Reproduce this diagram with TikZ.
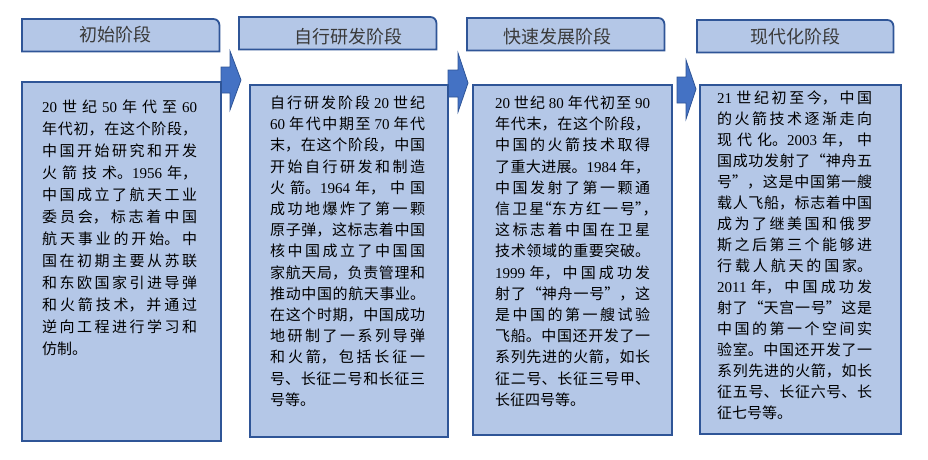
\documentclass[tikz,border=0pt]{standalone}
\usepackage{fontspec}
\setmainfont{Noto Sans CJK SC}
\newfontfamily\tnr{Liberation Serif}
\newcommand\yr[1]{{\tnr #1}}
\newcommand\hw[1]{{\addfontfeature{CharacterWidth=AlternateHalf}#1}}
\XeTeXlinebreaklocale "zh"
\XeTeXlinebreakskip=0pt plus 5pt
\tolerance=2000
\definecolor{boxfill}{HTML}{B4C7E7}
\definecolor{bord}{HTML}{2F5597}
\definecolor{arrowfill}{HTML}{4472C4}
\definecolor{titlegray}{HTML}{3A3A3A}
\tikzset{
  box/.style={draw=bord, fill=boxfill, line width=1.8pt, inner sep=0pt, anchor=north west},
  titlebox/.style={draw=bord, fill=boxfill, line width=1.8pt},
  titlename/.style={anchor=north west, inner sep=0pt, draw=none},
  titletext/.style={anchor=base, inner sep=0pt, text=titlegray, font=\fontsize{18}{20}\selectfont},
  body/.style={anchor=base west, inner sep=0pt, text width=155pt, align=justify},
  blockarrow/.style={fill=arrowfill, draw=bord, line width=0.8pt, line join=miter},
}
\begin{document}
\begin{tikzpicture}[x=1pt,y=-1pt]
\useasboundingbox (0,0) rectangle (928,459);
% arrows
\draw[blockarrow] (221,67) -- (230,67) -- (230,51) -- (241,80) -- (230,110) -- (230,93) -- (221,93) -- cycle;
\draw[blockarrow] (448,70) -- (458,70) -- (458,53) -- (468,83) -- (458,112) -- (458,97) -- (448,97) -- cycle;
\draw[blockarrow] (677,77) -- (686,77) -- (686,60) -- (696,89) -- (686,119) -- (686,103) -- (677,103) -- cycle;
% content boxes
\node[box, minimum width=199pt, minimum height=359pt] (b1) at (21,81) {};
\node[box, minimum width=198pt, minimum height=352pt] (b2) at (249,84) {};
\node[box, minimum width=199pt, minimum height=350pt] (b3) at (472,84) {};
\node[box, minimum width=201pt, minimum height=349pt] (b4) at (699,84) {};
% title boxes
\node[titlename, minimum width=197pt, minimum height=32pt] (t1) at (22,19) {};
\node[titlename, minimum width=197pt, minimum height=32pt] (t2) at (239,17) {};
\node[titlename, minimum width=197pt, minimum height=32pt] (t3) at (467,18) {};
\node[titlename, minimum width=196pt, minimum height=32pt] (t4) at (697,20) {};
\foreach \t in {t1,t2,t3,t4}{
  \draw[titlebox] (\t.south west) -- (\t.north west) -- ([xshift=-6pt]\t.north east)
    arc[start angle=90, end angle=0, radius=6pt] -- (\t.south east) -- cycle;
}
\node[titletext] (h1) at (115,41.8) {初始阶段};
\node[titletext] (h2) at (348,43.3) {自行研发阶段};
\node[titletext] (h3) at (557,43.3) {快速发展阶段};
\node[titletext] (h4) at (795,43.3) {现代化阶段};
% body texts
\node[body, font=\fontsize{15}{22}\selectfont] (c1) at (42,112.5) {%
\yr{20} 世纪 \yr{50} 年代至 \yr{60}\linebreak
年代初，在这个阶段，\linebreak
中国开始研究和开发\linebreak
火箭技术。\yr{1956} 年，\linebreak
中国成立了航天工业\linebreak
委员会，标志着中国\linebreak
航天事业的开始。中\linebreak
国在初期主要从苏联\linebreak
和东欧国家引进导弹\linebreak
和火箭技术，并通过\linebreak
逆向工程进行学习和\linebreak
仿制。};
\node[body, font=\fontsize{15}{21.2}\selectfont] (c2) at (270,108.5) {%
自行研发阶段 \yr{20} 世纪\linebreak
\yr{60} 年代中期至 \yr{70} 年代\linebreak
末，在这个阶段，中国\linebreak
开始自行研发和制造\linebreak
火箭。\yr{1964} 年，中国\linebreak
成功地爆炸了第一颗\linebreak
原子弹，这标志着中国\linebreak
核中国成立了中国国\linebreak
家航天局，负责管理和\linebreak
推动中国的航天事业。\linebreak
在这个时期，中国成功\linebreak
地研制了一系列导弹\linebreak
和火箭，包括长征一\linebreak
号、长征二号和长征三\linebreak
号等。};
\node[body, font=\fontsize{15}{21.2}\selectfont] (c3) at (495,108.5) {%
\yr{20} 世纪 \yr{80} 年代初至 \yr{90}\linebreak
年代末，在这个阶段，\linebreak
中国的火箭技术取得\linebreak
了重大进展。\yr{1984} 年，\linebreak
中国发射了第一颗通\linebreak
信卫星\hw{“}东方红一号\hw{”，}\linebreak
这标志着中国在卫星\linebreak
技术领域的重要突破。\linebreak
\yr{1999} 年，中国成功发\linebreak
射了“神舟一号”，这\linebreak
是中国的第一艘试验\linebreak
飞船。中国还开发了一\linebreak
系列先进的火箭，如长\linebreak
征二号、长征三号甲、\linebreak
长征四号等。};
\node[body, font=\fontsize{15}{21}\selectfont] (c4) at (717,103.5) {%
\yr{21} 世纪初至今，中国\linebreak
的火箭技术逐渐走向\linebreak
现代化。\yr{2003} 年，中\linebreak
国成功发射了“神舟五\linebreak
号”，这是中国第一艘\linebreak
载人飞船，标志着中国\linebreak
成为了继美国和俄罗\linebreak
斯之后第三个能够进\linebreak
行载人航天的国家。\linebreak
\yr{2011} 年，中国成功发\linebreak
射了“天宫一号”这是\linebreak
中国的第一个空间实\linebreak
验室。中国还开发了一\linebreak
系列先进的火箭，如长\linebreak
征五号、长征六号、长\linebreak
征七号等。};
\end{tikzpicture}
\end{document}
